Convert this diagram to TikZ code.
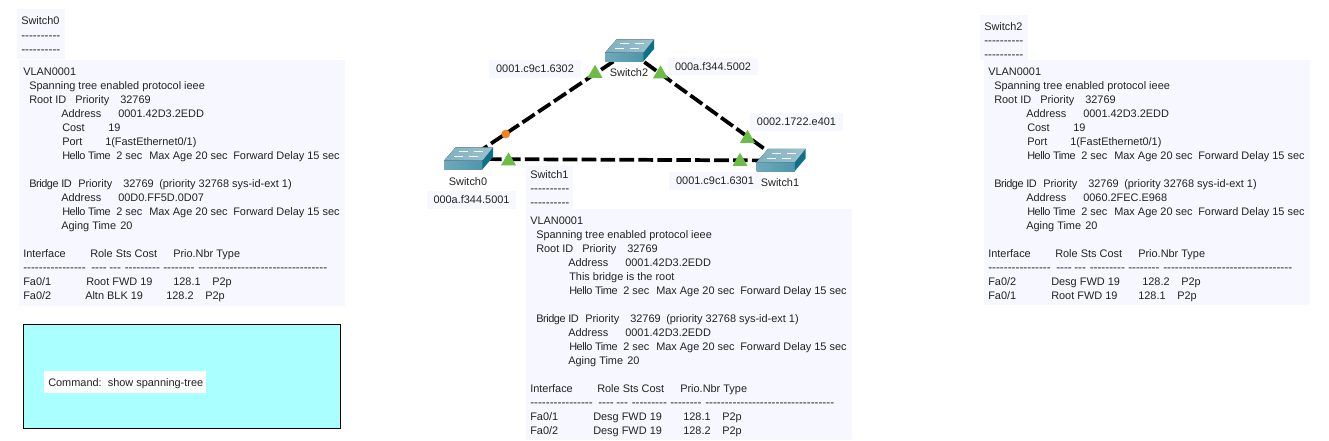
\documentclass[tikz,border=0pt]{standalone}
\usepackage{fontspec}
\usetikzlibrary{shapes.geometric}
\newfontfamily\panelfont{Liberation Sans}
\definecolor{panelbg}{HTML}{F7F8FF}
\definecolor{cmdbg}{HTML}{AAFFFF}
\definecolor{portgreen}{HTML}{6CBD45}
\definecolor{portorange}{HTML}{F58220}
\definecolor{inktext}{HTML}{222222}
\definecolor{swfrontl}{HTML}{6FA9BB}
\definecolor{swfrontr}{HTML}{4F95AA}
\definecolor{swside}{HTML}{0F7189}
\definecolor{swtopl}{HTML}{7FB0C0}
\definecolor{swtopr}{HTML}{9CC2CE}
\newcommand{\tightrun}[1]{{\addfontfeature{LetterSpace=-4}#1}}
\tikzstyle{runtext}=[inner sep=0pt,anchor=base west,text=inktext,font=\panelfont\fontsize{8.2pt}{10pt}\selectfont]
\tikzstyle{dashtext}=[inner sep=0pt,anchor=base west,text=inktext,font=\panelfont\fontsize{8.8pt}{10pt}\selectfont]
\tikzstyle{maclabel}=[fill=panelbg,inner xsep=5pt,inner ysep=3.5pt,text=inktext,font=\panelfont\fontsize{8.2pt}{10pt}\selectfont]
\tikzstyle{devlabel}=[inner sep=0pt,text=inktext,font=\panelfont\fontsize{8.2pt}{10pt}\selectfont]
\tikzstyle{panelbox}=[fill=panelbg,draw=none]
\tikzstyle{portup}=[regular polygon,regular polygon sides=3,fill=portgreen,inner sep=0pt,minimum size=13pt]
\tikzstyle{portblock}=[circle,fill=portorange,inner sep=0pt,minimum size=6.5pt]
\tikzstyle{trunk}=[line width=2.8pt,dash pattern=on 11pt off 3.2pt]
\tikzset{switchicon/.pic={
    \fill [left color=swfrontl,right color=swfrontr] (-24,1.7) -- (14.3,1.7) -- (14.3,10.5) -- (-24,10.5) -- cycle;
    \fill [swside] (14.3,1.7) -- (25,-11.7) -- (25,-2) -- (14.3,10.5) -- cycle;
    \fill [left color=swtopl,right color=swtopr] (-12.3,-11.7) -- (25,-11.7) -- (14.3,1.7) -- (-24,1.7) -- cycle;
    \draw [white,line width=0.5pt] (-9,-7.5) -- (0,-7.5) (6,-7.5) -- (15,-7.5) (-14,-2.5) -- (-5,-2.5) (1,-2.5) -- (10,-2.5);
}}
% the upper lines that the three show-outputs have in common
\newcommand{\panelhead}[1]{
    \foreach \tx/\ty/\txt [count=\i] in {
        23/75/{VLAN0001},
        29/89/{Spanning tree enabled protocol ieee},
        29/103/{Root ID}, 75/103/{Priority}, 120/103/{32769},
        61/117/{Address}, 118/117/{0001.42D3.2EDD}
    } {
        \node [runtext] (#1h\i) at (\tx,\ty) {\txt};
    }
}
% and the lower ones, from the hello line down
\newcommand{\paneltail}[1]{
    \foreach \tx/\ty/\txt [count=\i] in {
        62/159/{\tightrun{Hello Time}}, 116/159/{2 sec}, 149/159/{Max Age 20 sec}, 233/159/{Forward Delay 15 sec},
        29/187/{\tightrun{Bridge ID}}, 78/187/{Priority}, 123/187/{32769}, 159/187/{(priority 32768 sys-id-ext 1)},
        61/201/{Address},
        62/215/{\tightrun{Hello Time}}, 116/215/{2 sec}, 149/215/{Max Age 20 sec}, 233/215/{Forward Delay 15 sec},
        61/229/{Aging Time}, 120/229/{20},
        23/257/{Interface}, 90/257/{Role Sts Cost}, 173/257/{Prio.Nbr Type}
    } {
        \node [runtext] (#1t\i) at (\tx,\ty) {\txt};
    }
    \foreach \tx/\txt [count=\i] in {
        23/{----------------}, 91/{----}, 109/{---}, 124.5/{---------}, 163/{--------}, 198/{---------------------------------}
    } {
        \node [dashtext] (#1d\i) at (\tx,271) {\txt};
    }
}
\begin{document}
\begin{tikzpicture}[x=0.75pt,y=-0.75pt]
    \useasboundingbox (0,0) rectangle (1329,440);

    % Switch0 panel
    \fill [panelbox] (17,9) rectangle (65,59);
    \fill [panelbox] (19,60) rectangle (345,306);
    \node [runtext] (hzero) at (21,24) {Switch0};
    \node [dashtext] (hzeroa) at (21,39) {----------};
    \node [dashtext] (hzerob) at (21,53) {----------};
    \panelhead{pzero}
    \paneltail{pzero}
    \foreach \tx/\ty/\txt [count=\i] in {
        62/131/{Cost}, 108/131/{19},
        62/145/{Port}, 105/145/{1(FastEthernet0/1)},
        118/201/{00D0.FF5D.0D07},
        23/285/{Fa0/1}, 86/285/{Root FWD 19}, 173/285/{128.1}, 212/285/{P2p},
        23/299/{Fa0/2}, 85/299/{Altn BLK 19}, 166/299/{128.2}, 205/299/{P2p}
    } {
        \node [runtext] (qzero\i) at (\tx,\ty) {\txt};
    }

    % command box
    \draw [fill=cmdbg,line width=0.75pt] (23,324) rectangle (340,428);
    \fill [white] (44,371) rectangle (206,393);
    \node [runtext] (cmdtext) at (48,386) {Command:~~show spanning-tree};

    % Switch1 panel
    \fill [panelbox] (526,166) rectangle (573,209);
    \fill [panelbox] (526,209) rectangle (852,440);
    \node [runtext] (hone) at (530,178) {Switch1};
    \node [dashtext] (honea) at (530,192) {----------};
    \node [dashtext] (honeb) at (530,206) {----------};
    \begin{scope}[shift={(507,149)}]
        \panelhead{pone}
        \node [runtext] (qroot) at (62,131) {This bridge is the root};
    \end{scope}
    \begin{scope}[shift={(507,135)}]
        \paneltail{pone}
        \foreach \tx/\ty/\txt [count=\i] in {
            118/201/{0001.42D3.2EDD},
            23/285/{Fa0/1}, 86/285/{Desg FWD 19}, 176/285/{128.1}, 215/285/{P2p},
            23/299/{Fa0/2}, 86/299/{Desg FWD 19}, 176/299/{128.2}, 215/299/{P2p}
        } {
            \node [runtext] (qone\i) at (\tx,\ty) {\txt};
        }
    \end{scope}

    % Switch2 panel
    \fill [panelbox] (980,15) rectangle (1028,60);
    \fill [panelbox] (984,60) rectangle (1310,305);
    \node [runtext] (htwo) at (984,30) {Switch2};
    \node [dashtext] (htwoa) at (984,44) {----------};
    \node [dashtext] (htwob) at (984,58) {----------};
    \begin{scope}[shift={(965,0)}]
        \panelhead{ptwo}
        \paneltail{ptwo}
        \foreach \tx/\ty/\txt [count=\i] in {
            62/131/{Cost}, 108/131/{19},
            62/145/{Port}, 105/145/{1(FastEthernet0/1)},
            118/201/{0060.2FEC.E968},
            23/285/{Fa0/2}, 86/285/{Desg FWD 19}, 177/285/{128.2}, 216/285/{P2p},
            23/299/{Fa0/1}, 86/299/{Root FWD 19}, 173/299/{128.1}, 212/299/{P2p}
        } {
            \node [runtext] (qtwo\i) at (\tx,\ty) {\txt};
        }
    \end{scope}

    % the triangle of switches
    \node [inner sep=0pt] (sw0) at (468,159) {};
    \node [inner sep=0pt] (sw1) at (780.5,160.5) {};
    \node [inner sep=0pt] (sw2) at (629,51) {};
    \draw [trunk] (sw2.center) -- (sw0.center);
    \draw [trunk] (sw2.center) -- (sw1.center);
    \draw [trunk] (sw0.center) -- (sw1.center);
    \pic at (sw0) {switchicon};
    \pic at (sw1) {switchicon};
    \pic at (sw2) {switchicon};

    \node [portup] (p20) at (595,73.5) {};
    \node [portup] (p21) at (660.5,74) {};
    \node [portup] (p12) at (747.5,138.5) {};
    \node [portup] (p10) at (740,161.5) {};
    \node [portup] (p01) at (508.5,161) {};
    \node [portblock] (p02) at (505.7,134) {};

    \node [devlabel] (name0) at (468,182) {Switch0};
    \node [devlabel] (name1) at (780,183) {Switch1};
    \node [devlabel] (name2) at (629,73) {Switch2};
    \node [maclabel] (mac20) at (535,69) {0001.c9c1.6302};
    \node [maclabel] (mac21) at (713,66.5) {000a.f344.5002};
    \node [maclabel] (mac12) at (796.5,122) {0002.1722.e401};
    \node [maclabel] (mac10) at (715,181) {0001.c9c1.6301};
    \node [maclabel] (mac01) at (471.5,200) {000a.f344.5001};
\end{tikzpicture}
\end{document}
